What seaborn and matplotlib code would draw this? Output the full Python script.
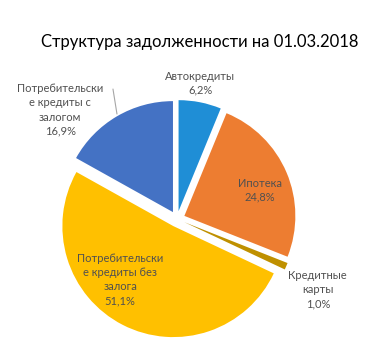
import matplotlib
matplotlib.use("Agg")
import matplotlib.pyplot as plt
import seaborn as sns
import numpy as np

sns.set_theme(style="white")
plt.rcParams['font.family'] = ['Lato', 'DejaVu Sans']

categories = ["Автокредиты", "Ипотека", "Кредитные\nкарты",
              "Потребительски\nе кредиты без\nзалога", "Потребительски\nе кредиты с\nзалогом"]
values = [6.2, 24.8, 1.0, 51.1, 16.9]
pct_labels = ["6,2%", "24,8%", "1,0%", "51,1%", "16,9%"]
colors = ["#1F8ED6", "#ED7D31", "#BF9000", "#FFC000", "#4472C4"]
title = "Структура задолженности на 01.03.2018"

fig = plt.figure(figsize=(3.83, 3.51), dpi=100)
ax = fig.add_axes([0, 0, 1, 1])
wedges, _ = ax.pie(values, colors=colors, startangle=90, counterclock=False,
                   explode=[0.072] * len(values), radius=1.0,
                   wedgeprops=dict(linewidth=0))
ax.set_xlim(-1.595, 1.856)
ax.set_ylim(-1.189, 1.973)
ax.set_aspect('equal')
ax.axis('off')

# label placement: (radius, angle offset) relative to wedge mid-angle
label_r = [1.24, 0.79, 1.42, 0.75, 1.44]
label_da = [1.5, -3.8, -3.3, -15.8, 16.6]
text_color = "#505050"
for w, cat, pct, r, da in zip(wedges, categories, pct_labels, label_r, label_da):
    mid = np.deg2rad((w.theta1 + w.theta2) / 2 + da)
    x, y = r * np.cos(mid), r * np.sin(mid)
    ax.text(x, y, f"{cat}\n{pct}", ha="center", va="center", fontsize=8,
            color=text_color, linespacing=1.35)

# leader line for the last label
ax.plot([-0.577, -0.541], [1.171, 0.946], color="#A6A6A6", lw=0.8)

fig.text(0.522, 0.88, title, ha="center", va="center", fontsize=12, color="#000000")
fig.savefig("out.png", dpi=100)
